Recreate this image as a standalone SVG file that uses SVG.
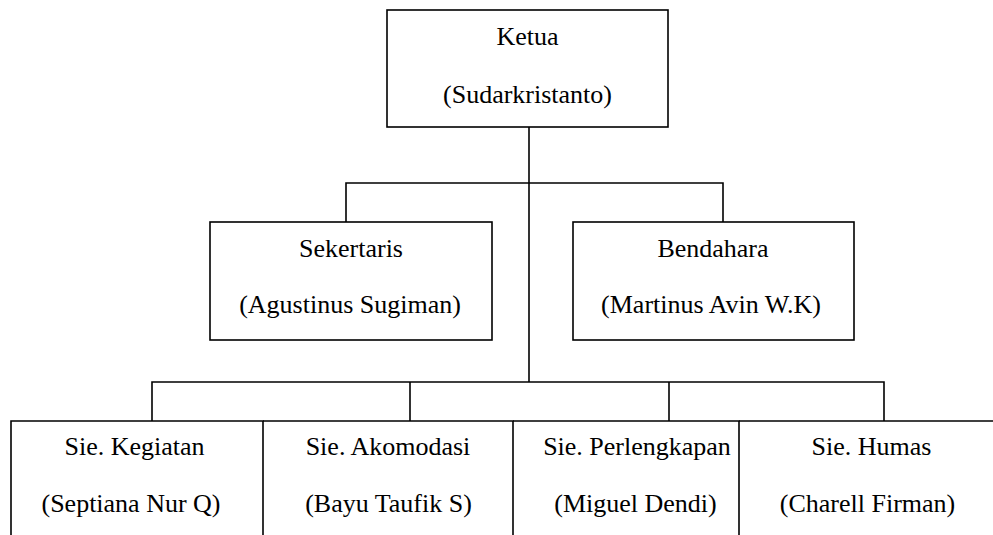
<svg xmlns="http://www.w3.org/2000/svg" width="993" height="535" viewBox="0 0 993 535">
<style>
.box{fill:#fff;stroke:#000;stroke-width:1.6}
.ln{fill:none;stroke:#000;stroke-width:1.6}
text{font-family:"Liberation Serif","Times New Roman","DejaVu Serif",serif;font-size:26px;fill:#000;text-anchor:middle}
</style>
<rect width="993" height="535" fill="#fff"/>
<g id="connectors">
<path class="ln" d="M529,127 V382"/>
<path class="ln" d="M346,222 V183 H723 V222"/>
<path class="ln" d="M152,421 V382 H884 V421"/>
<path class="ln" d="M410,382 V421"/>
<path class="ln" d="M669,382 V421"/>
</g>
<g id="ketua">
<rect class="box" x="387" y="10" width="281" height="117"/>
<text x="527.5" y="45" font-family="Liberation Serif, serif">Ketua</text>
<text x="527.5" y="103" font-family="Liberation Serif, serif">(Sudarkristanto)</text>
</g>
<g id="sekertaris">
<rect class="box" x="210" y="222" width="282" height="118"/>
<text x="351" y="257">Sekertaris</text>
<text x="350" y="313">(Agustinus Sugiman)</text>
</g>
<g id="bendahara">
<rect class="box" x="573" y="222" width="281" height="118"/>
<text x="713" y="257">Bendahara</text>
<text x="711" y="313">(Martinus Avin W.K)</text>
</g>
<g id="sie-kegiatan">
<path class="ln" d="M11,536 V421 H263 V536"/>
<text x="134.5" y="455">Sie. Kegiatan</text>
<text x="131" y="512">(Septiana Nur Q)</text>
</g>
<g id="sie-akomodasi">
<path class="ln" d="M263,421 H513 V536"/>
<text x="388" y="455">Sie. Akomodasi</text>
<text x="388.5" y="512">(Bayu Taufik S)</text>
</g>
<g id="sie-perlengkapan">
<path class="ln" d="M513,421 H739 V536"/>
<text x="637" y="455">Sie. Perlengkapan</text>
<text x="635.5" y="512">(Miguel Dendi)</text>
</g>
<g id="sie-humas">
<path class="ln" d="M739,421 H994"/>
<text x="871.5" y="455">Sie. Humas</text>
<text x="867.5" y="512">(Charell Firman)</text>
</g>
</svg>
